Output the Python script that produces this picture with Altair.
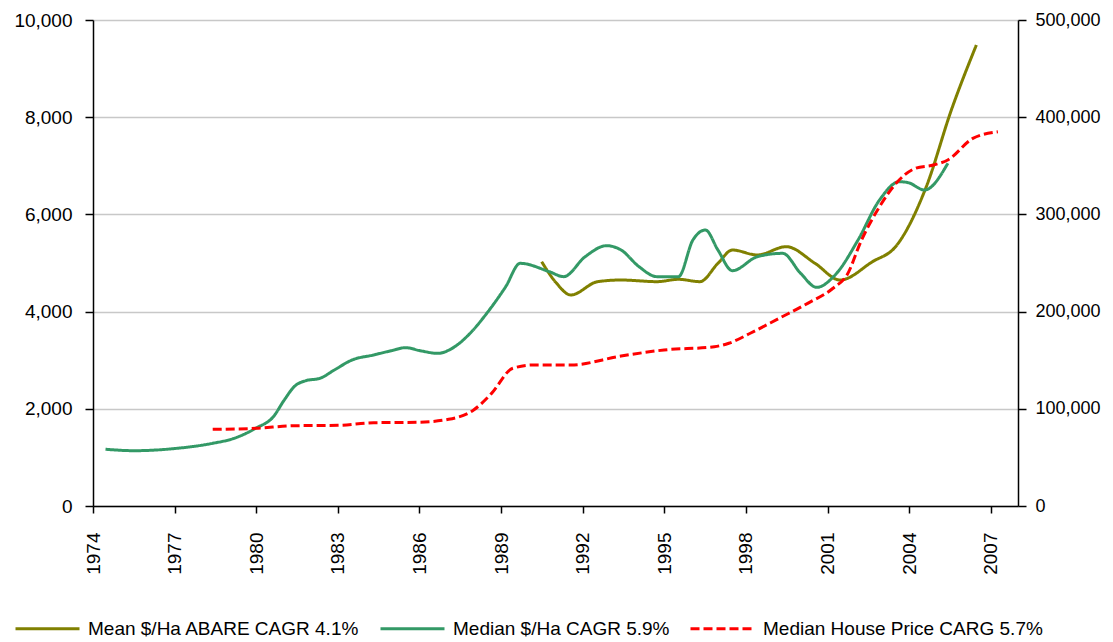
import altair as alt
import pandas as pd

# ---- data ----
mean_label = "Mean $/Ha ABARE CAGR 4.1%"
median_label = "Median $/Ha CAGR 5.9%"
house_label = "Median House Price CARG 5.7%"

green_years = [1974.46, 1975.51, 1977.09, 1978.40, 1979.19, 1979.98, 1980.63, 1981.03, 1981.42,
               1981.82, 1982.34, 1982.87, 1983.52, 1984.31, 1984.97, 1985.49, 1986.02, 1986.68,
               1987.20, 1987.86, 1988.52, 1989.17, 1989.70, 1990.77, 1991.30, 1992.09, 1992.88,
               1993.41, 1994.07, 1994.73, 1995.52, 1996.05, 1996.51, 1996.97, 1997.50, 1998.42,
               1999.35, 2000.01, 2000.60, 2001.33, 2002.12, 2002.91, 2003.64, 2003.97, 2004.56,
               2005.42]
green_vals = [1167, 1138, 1187, 1290, 1393, 1599, 1838, 2181, 2469,
              2578, 2627, 2798, 3004, 3107, 3196, 3258, 3196, 3141,
              3244, 3553, 3999, 4513, 4993, 4822, 4719, 5130, 5356,
              5267, 4924, 4719, 4719, 5473, 5679, 5267, 4842, 5130,
              5199, 4787, 4500, 4787, 5473, 6296, 6673, 6653, 6502,
              7051]

olive_years = [1990.49, 1991.04, 1991.56, 1992.55, 1993.41, 1994.73, 1995.52, 1996.31, 1996.97,
               1997.50, 1998.42, 1999.48, 2000.54, 2001.46, 2002.65, 2003.50, 2004.63, 2005.55,
               2006.47]
olive_vals = [5027, 4582, 4342, 4616, 4650, 4616, 4664, 4616, 4993,
              5267, 5165, 5336, 4993, 4650, 5027, 5336, 6571, 8148,
              9486]

red_years = [1978.40, 1979.98, 1981.42, 1983.00, 1984.31, 1985.89, 1987.07, 1987.99, 1988.65,
             1989.43, 1990.22, 1991.56, 1993.41, 1994.99, 1996.84, 1997.37, 1998.16, 1999.22,
             2000.27, 2001.20, 2001.72, 2002.25, 2002.91, 2003.57, 2004.23, 2004.89, 2005.42,
             2006.34, 2007.26]
red_vals = [78900, 79900, 82600, 83000, 85700, 86100, 89200, 98800, 115900,
            141700, 145100, 145100, 154300, 160500, 163900, 167400, 177700, 193100,
            208500, 224000, 238000, 273700, 307900, 333600, 347400, 350800, 356000,
            378200, 385000]

x_ticks = list(range(1974, 2008, 3))
left_ticks = [0, 2000, 4000, 6000, 8000, 10000]
right_ticks = [0, 100000, 200000, 300000, 400000, 500000]

series_order = [mean_label, median_label, house_label]
series_colors = ["#808000", "#339966", "#FF0000"]
series_dash = [[1, 0], [1, 0], [9, 4]]

rows = []
for y, v in zip(olive_years, olive_vals):
    rows.append({"year": y, "value": v, "series": mean_label})
for y, v in zip(green_years, green_vals):
    rows.append({"year": y, "value": v, "series": median_label})
for y, v in zip(red_years, red_vals):
    rows.append({"year": y, "value": v, "series": house_label})
df = pd.DataFrame(rows)

FONT = "Liberation Sans, Arial, sans-serif"

legend = alt.Legend(
    orient="none", legendX=-79, legendY=575, direction="horizontal",
    symbolType="stroke", symbolSize=4096, symbolStrokeWidth=3,
    labelFontSize=19, labelFont=FONT, labelColor="#000000", labelLimit=500,
    columnPadding=14, labelOffset=7, padding=0, title=None,
)

color_enc = alt.Color("series:N", scale=alt.Scale(domain=series_order, range=series_colors), legend=legend)
dash_enc = alt.StrokeDash("series:N", scale=alt.Scale(domain=series_order, range=series_dash), legend=legend)

x_enc = alt.X(
    "year:Q",
    scale=alt.Scale(domain=[1974, 2008], nice=False, zero=False),
    axis=alt.Axis(values=x_ticks, format="d", labelAngle=-90, title=None, grid=False,
                  labelFontSize=19, labelPadding=19, tickSize=7),
)

left = alt.Chart(df).transform_filter(
    alt.FieldOneOfPredicate(field="series", oneOf=[mean_label, median_label])
).mark_line(strokeWidth=3, interpolate="monotone").encode(
    x=x_enc,
    y=alt.Y("value:Q", scale=alt.Scale(domain=[0, 10000], nice=False),
            axis=alt.Axis(values=left_ticks, format=",.0f", orient="left", title=None,
                          grid=True, gridColor="#C8C8C8", gridWidth=1.5)),
    color=color_enc,
    strokeDash=dash_enc,
)

right = alt.Chart(df).transform_filter(
    alt.FieldEqualPredicate(field="series", equal=house_label)
).mark_line(strokeWidth=3, interpolate="monotone").encode(
    x=x_enc,
    y=alt.Y("value:Q", scale=alt.Scale(domain=[0, 500000], nice=False),
            axis=alt.Axis(values=right_ticks, format=",.0f", orient="right", title=None, grid=False,
                          labelFontSize=18, labelPadding=9)),
    color=color_enc,
    strokeDash=dash_enc,
)

chart = alt.layer(left, right).resolve_scale(y="independent").properties(
    width=925, height=486,
    autosize=alt.AutoSizeParams(type="none"),
    padding={"left": 85, "top": 12, "right": 87, "bottom": 140},
    background="white",
).configure_view(stroke=None).configure_axis(
    domainColor="#000000", domainWidth=1.5, tickColor="#000000", tickWidth=1.5,
    tickSize=8, labelPadding=13, labelColor="#000000", labelFont=FONT, labelFontSize=19,
)

chart.save("out.html", embed_options={"renderer": "svg", "actions": False})
